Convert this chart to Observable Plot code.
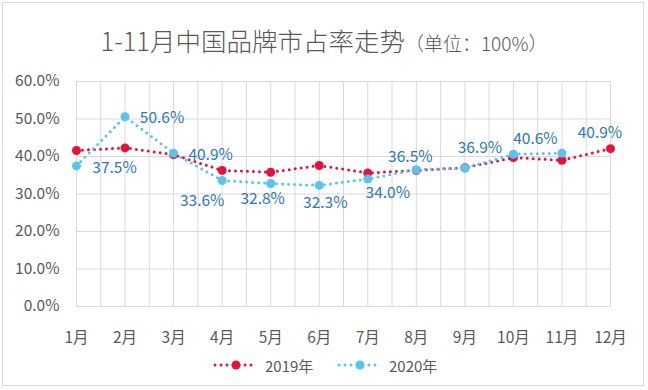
<!DOCTYPE html>
<html>
<head>
<meta charset="utf-8">
<script src="https://cdn.jsdelivr.net/npm/d3@7"></script>
<script src="https://cdn.jsdelivr.net/npm/@observablehq/plot@0.6"></script>
<style>
  body { margin: 0; background: #fff; font-family: "Noto Sans CJK SC", "Noto Sans", sans-serif; }
  #wrap { position: relative; width: 648px; height: 390px; overflow: hidden; }
  #frame { position: absolute; left: 2px; top: 2px; width: 642px; height: 384px; border: 1px solid #d9d9d9; box-sizing: border-box; }
  #title { position: absolute; left: 0; width: 648px; top: 21px; text-align: center; color: #595959; white-space: nowrap; font-weight: 300; }
  #title .main { font-size: 25.5px; }
  #title .unit { font-size: 19px; }
  #chart { position: absolute; left: 0; top: 0; }
  #legend { position: absolute; top: 354px; left: 0; width: 648px; height: 22px; font-size: 15px; color: #595959; }
  .item { position: absolute; top: 0; display: flex; align-items: center; height: 22px; }
  .item svg { margin-right: 6px; }
</style>
</head>
<body>
<div id="wrap">
  <div id="frame"></div>
  <div id="title"><span class="main">1-11月中国品牌市占率走势</span><span class="unit">（单位：100%）</span></div>
  <div id="chart"></div>
  <div id="legend"></div>
</div>
<script>
const months = ["1月","2月","3月","4月","5月","6月","7月","8月","9月","10月","11月","12月"];
const seriesNames = ["2019年", "2020年"];
const values2019 = [41.6, 42.3, 40.5, 36.3, 35.8, 37.6, 35.6, 36.3, 37.0, 39.7, 39.0, 42.1];
const values2020 = [37.5, 50.6, 40.9, 33.6, 32.8, 32.3, 34.0, 36.5, 36.9, 40.6, 40.9];
const yTicks = [0, 10, 20, 30, 40, 50, 60];
// label offsets (px) relative to each 2020 point, as placed in the reference
const labelOffsets = [[38,2],[37,1],[37,2],[-20,21],[-8,16],[6,18],[20,14],[-6,-13],[15,-20],[22,-15],[38,-20]];

const colors = {"2019年": "#e8103c", "2020年": "#55c6f0"};
const labelColor = "#2b78b8";

const d2019 = values2019.map((v, i) => ({m: i + 1, v}));
const d2020 = values2020.map((v, i) => ({m: i + 1, v}));

const halfSteps = d3.range(1, months.length + 0.01, 0.5);

const chart = Plot.plot({
  width: 648,
  height: 390,
  marginLeft: 76,
  marginRight: 38,
  marginTop: 81,
  marginBottom: 84,
  style: {fontFamily: '"Noto Sans CJK SC", "Noto Sans", sans-serif', fontSize: "15px", color: "#595959", background: "transparent"},
  x: {type: "linear", domain: [1, months.length], label: null},
  y: {domain: [0, 60], label: null},
  marks: [
    Plot.gridX(halfSteps, {stroke: "#d9d9d9", strokeOpacity: 1}),
    Plot.gridY(yTicks, {stroke: "#d9d9d9", strokeOpacity: 1}),
    Plot.axisX(d3.range(1, months.length + 1), {label: null, tickSize: 0, tickPadding: 25, tickFormat: d => months[d - 1], fontSize: 15.5, fill: "#595959"}),
    Plot.axisY(yTicks, {label: null, tickSize: 0, tickPadding: 17, tickFormat: d => d.toFixed(1) + "%", fontSize: 15.5, fill: "#595959"}),
    Plot.line(d2019, {x: "m", y: "v", stroke: colors["2019年"], strokeWidth: 3, strokeDasharray: "0 6", strokeLinecap: "round"}),
    Plot.dot(d2019, {x: "m", y: "v", r: 4.5, fill: colors["2019年"]}),
    Plot.line(d2020, {x: "m", y: "v", stroke: colors["2020年"], strokeWidth: 3, strokeDasharray: "0 6", strokeLinecap: "round"}),
    Plot.dot(d2020, {x: "m", y: "v", r: 4.5, fill: colors["2020年"]}),
    ...d2020.map((d, i) => Plot.text([d], {x: "m", y: "v", text: e => e.v.toFixed(1) + "%", dx: labelOffsets[i][0], dy: labelOffsets[i][1], fill: labelColor, fontSize: 15.5, textAnchor: "middle"}))
  ]
});
document.getElementById("chart").appendChild(chart);

// legend
const legend = document.getElementById("legend");
const legendX = [213, 337];
seriesNames.forEach((name, i) => {
  const item = document.createElement("div");
  item.className = "item";
  item.style.left = legendX[i] + "px";
  const c = colors[name];
  item.innerHTML = `<svg width="46" height="12"><line x1="2" y1="6" x2="44" y2="6" stroke="${c}" stroke-width="3" stroke-dasharray="0 6" stroke-linecap="round"/><circle cx="23" cy="6" r="4.5" fill="${c}"/></svg><span>${name}</span>`;
  legend.appendChild(item);
});
</script>
</body>
</html>
